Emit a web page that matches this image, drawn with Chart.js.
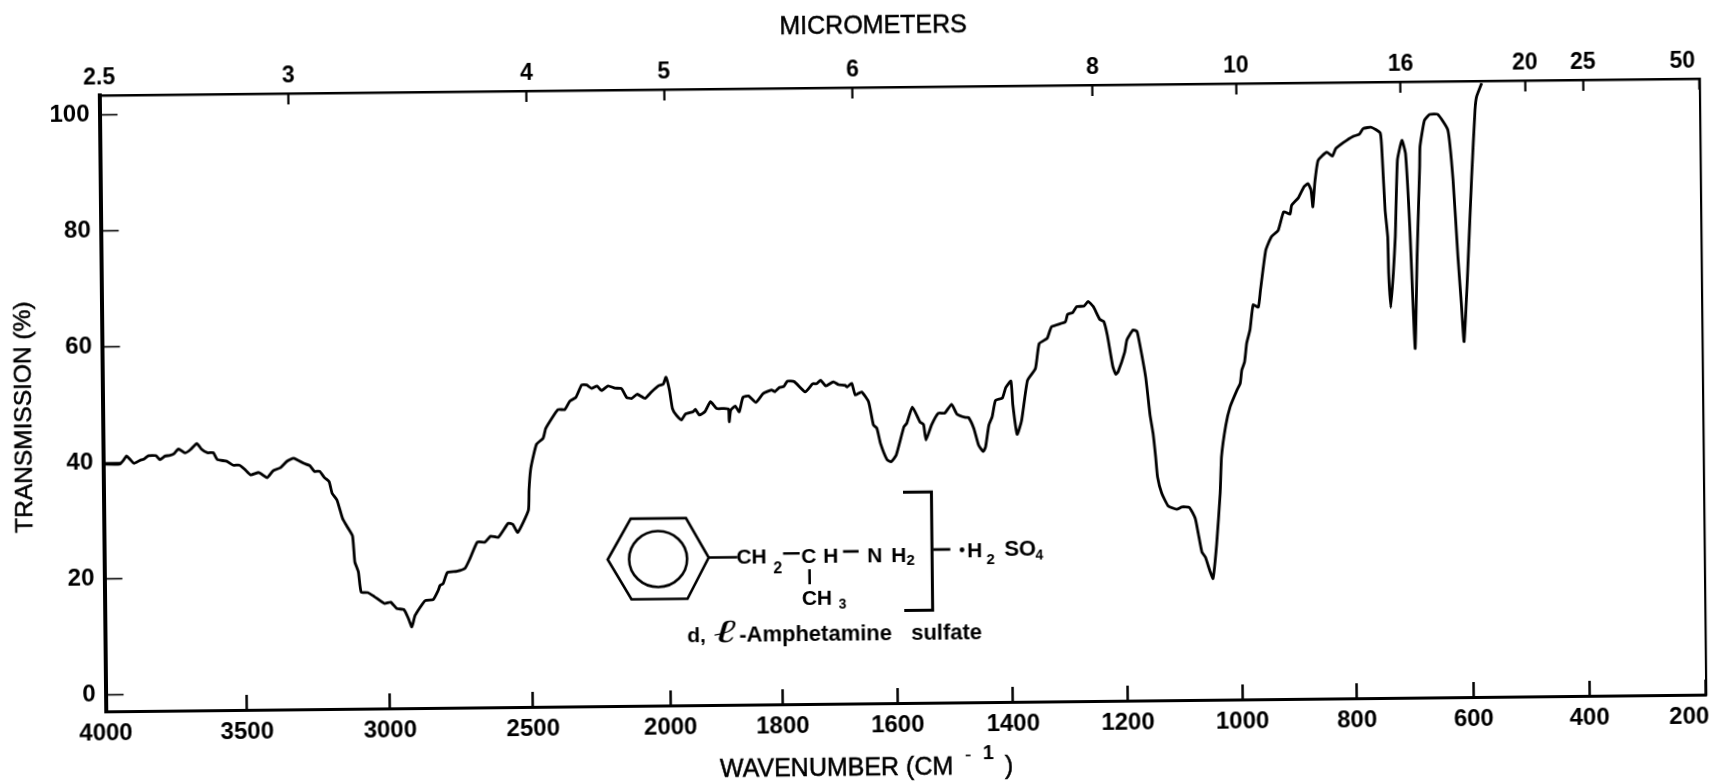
<!DOCTYPE html>
<html>
<head>
<meta charset="utf-8">
<title>d,l-Amphetamine sulfate IR spectrum</title>
<script src="https://cdn.jsdelivr.net/npm/chart.js@4/dist/chart.umd.min.js"></script>
<style>
  html, body { margin: 0; background: #fff; overflow: hidden; }
  /* the scanned page sits slightly crooked */
  #ir_chart { display: block; transform: rotate(-0.6deg); transform-origin: 902px 395px; }
</style>
</head>
<body>
<canvas id="ir_chart" width="1715" height="783"></canvas>
<script>
const wavenumbers = [
  4000,3941,3929,3917,3905,3891,3870,3856,3840,3813,3799,3781,3766,3749,3733,3710,3690,3668,3651,3631,
  3610,3596,3563,3540,3518,3500,3479,3450,3421,3400,3374,3351,3328,3293,3272,3256,3238,3221,3205,3195,
  3178,3159,3142,3125,3118,3106,3097,3074,3051,3016,2994,2973,2948,2933,2921,2909,2874,2845,2827,2821,
  2810,2795,2762,2733,2715,2689,2662,2642,2615,2580,2564,2547,2509,2506,2500,2490,2477,2453,2443,2398,
  2373,2355,2332,2311,2293,2275,2255,2239,2215,2190,2166,2148,2130,2109,2081,2057,2032,2014,2004,1996,
  1991,1984,1975,1968,1954,1950,1943,1933,1923,1912,1900,1891,1890,1887,1879,1872,1865,1855,1842,1829,
  1814,1808,1800,1792,1786,1774,1755,1742,1735,1728,1719,1706,1697,1686,1682,1674,1668,1657,1645,1637,
  1631,1625,1614,1607,1598,1584,1579,1569,1556,1550,1546,1536,1524,1513,1501,1492,1477,1472,1463,1455,
  1447,1443,1437,1431,1425,1413,1407,1398,1395,1388,1380,1369,1355,1348,1334,1326,1302,1298,1289,1282,
  1269,1262,1253,1242,1235,1229,1220,1215,1211,1199,1195,1184,1177,1163,1156,1151,1147,1144,1137,1126,
  1111,1102,1089,1079,1074,1068,1062,1054,1049,1042,1035,1032,1024,1016,1004,998,995,990,986,980,
  974,965,961,951,941,929,919,908,905,893,883,876,871,868,864,858,843,833,827,814,
  796,786,779,765,750,747,743,739,738,735,730,726,721,713,707,701,694,689,683,682,
  674,665,651,634,626,619,614,610,603,594,587,584,575
]
const transmission = [
  39.8,39.8,40.4,41.2,40.6,39.9,40.4,40.6,41.2,41.2,40.5,41.1,41.2,41.5,42.3,41.6,42.2,43.2,42.2,41.6,
  41.6,40.4,40.1,39.4,39.4,38.7,37.7,38.1,37.2,38.4,38.9,40.0,40.5,39.6,39.2,38.2,38.2,37.1,36.4,34.4,
  33.2,30.0,28.5,27.0,22.5,20.8,17.3,17.2,16.5,15.3,15.5,14.4,14.2,12.7,11.2,13.2,15.7,15.9,17.5,18.3,
  18.6,20.5,20.7,21.2,22.9,25.7,25.7,26.7,26.5,28.9,28.7,27.3,31.1,34.6,38.0,40.3,42.5,43.5,45.2,48.4,
  48.4,49.8,50.5,52.6,52.6,52.0,52.4,51.6,52.4,52.0,51.9,50.4,50.2,50.9,50.2,51.3,52.3,52.6,53.8,51.6,
  48.4,47.2,46.4,47.4,47.8,48.2,47.2,47.8,49.5,48.3,48.3,48.2,46.0,48.0,48.7,47.7,50.2,50.4,49.3,50.8,
  51.4,51.1,51.8,52.0,52.9,52.8,51.0,52.4,52.4,53.0,52.0,52.7,52.2,52.1,51.8,52.4,50.4,50.9,49.2,45.2,
  44.6,42.0,39.2,38.8,39.9,44.8,45.4,48.2,45.6,45.2,42.5,45.1,47.1,47.1,48.6,46.9,46.3,46.3,44.4,41.5,
  40.4,41.2,44.9,46.4,49.2,49.6,51.4,52.5,48.4,43.3,45.7,52.6,54.6,58.9,59.8,61.8,62.6,63.9,64.2,65.2,
  65.3,66.1,65.2,63.0,62.6,60.2,54.8,53.5,53.9,57.3,59.4,61.1,60.8,53.0,46.4,43.2,39.2,35.7,32.9,30.7,
  30.1,30.5,30.4,28.5,25.9,22.7,21.8,19.3,18.1,24.1,32.8,39.1,44.5,47.7,50.5,51.7,54.0,55.4,58.6,60.9,
  65.2,64.8,67.7,74.6,76.9,78.0,81.2,80.8,82.3,83.6,85.5,86.0,84.9,82.0,86.3,90.0,91.4,90.7,92.0,93.0,
  94.1,94.4,95.4,95.6,94.6,90.5,81.3,76.7,70.4,64.5,70.4,76.7,89.9,93.3,91.0,78.4,57.4,73.2,88.7,92.2,
  96.7,97.7,97.7,95.0,86.4,73.1,65.1,58.5,69.7,86.9,98.4,100.7,103.0
]
const bottom_ticks = [4000,3500,3000,2500,2000,1800,1600,1400,1200,1000,800,600,400,200]
// share of the axis width used up at each bottom tick, the printed grid changes scale at 2000
const bottom_stops = [0,.0883,.1777,.2670,.3529,.4230,.4948,.5670,.6387,.7103,.7819,.8548,.9272,1]
const top_positions = [4000,3333,2500,2000,1667,1250,1000,714,500,400,200]
const top_labels = ['2.5','3','4','5','6','8','10','16','20','25','50']
const percent_ticks = [0,20,40,60,80,100]

const FONT = '"Liberation Sans", Arial, sans-serif'

class WavenumberScale extends Chart.LinearScale {
    buildTicks() {
        return this.options.tickValues.map(v => ({ value: v }))
    }
    getPixelForValue(value) {
        for (let i = 1; i < bottom_ticks.length; i++) {
            if (value >= bottom_ticks[i]) {
                let t = (bottom_ticks[i - 1] - value) / (bottom_ticks[i - 1] - bottom_ticks[i])
                return this.getPixelForDecimal(bottom_stops[i - 1] + t * (bottom_stops[i] - bottom_stops[i - 1]))
            }
        }
        return this.getPixelForDecimal(1)
    }
    // the last label sits inside the frame instead of centred on the corner
    _computeLabelItems(area) {
        let items = super._computeLabelItems(area)
        if (items.length) items[items.length - 1].options.translation[0] -= 17
        return items
    }
}
WavenumberScale.id = 'wavenumber'
WavenumberScale.defaults = Chart.LinearScale.defaults
Chart.register(WavenumberScale)

function text(ctx, str, x, y, font, align) {
    ctx.font = font + ' ' + FONT
    ctx.textAlign = align || 'left'
    ctx.fillText(str, x, y)
}

// axis captions look heavier on the scan than a plain regular weight
function caption(ctx, str, x, y, font, align) {
    text(ctx, str, x, y, font, align)
    ctx.lineWidth = 0.5
    ctx.strokeText(str, x, y)
}

function fixBox(scale, w, h) {
    if (w) scale.width = w
    if (h) scale.height = h
    scale.paddingLeft = scale.paddingRight = scale.paddingTop = scale.paddingBottom = 0
}

const annotations = {
    id: 'annotations',
    afterDraw(chart) {
        let ctx = chart.ctx
        ctx.save()
        ctx.fillStyle = '#000'
        ctx.strokeStyle = '#000'
        ctx.textBaseline = 'alphabetic'

        // axis captions
        caption(ctx, 'MICROMETERS', 877, 33, '25px', 'center')
        caption(ctx, 'WAVENUMBER (CM', 716, 775, '25px')
        text(ctx, '-', 961, 762, '20px')
        text(ctx, '1', 979, 760, 'bold 20px')
        caption(ctx, ')', 1001, 775, '25px')
        ctx.save()
        ctx.translate(31, 408)
        ctx.rotate(-Math.PI / 2)
        caption(ctx, 'TRANSMISSION (%)', 0, 0, '24.5px', 'center')
        ctx.restore()

        // structural formula
        ctx.translate(-1.3, -1.8)
        ctx.lineWidth = 2.6
        ctx.lineJoin = 'miter'
        ctx.beginPath()
        ctx.moveTo(607.3, 558.3)
        ctx.lineTo(630.7, 517.7)
        ctx.lineTo(686, 517.7)
        ctx.lineTo(708.3, 557.3)
        ctx.lineTo(686.7, 598.3)
        ctx.lineTo(630.7, 598.3)
        ctx.closePath()
        ctx.moveTo(686.7, 558.3)
        ctx.ellipse(657.7, 558.3, 29, 28, 0, 0, Math.PI * 2)
        ctx.moveTo(708.3, 557.3)
        ctx.lineTo(737, 557.3)
        ctx.moveTo(782.7, 554)
        ctx.lineTo(799.3, 554)
        ctx.moveTo(842.7, 552.7)
        ctx.lineTo(858.3, 552.7)
        ctx.moveTo(809, 570)
        ctx.lineTo(809, 585)
        ctx.moveTo(933, 551.7)
        ctx.lineTo(950, 551.7)
        ctx.stroke()
        ctx.lineWidth = 3
        ctx.beginPath()
        ctx.moveTo(903.3, 494)
        ctx.lineTo(931.7, 494)
        ctx.lineTo(931.7, 612.3)
        ctx.lineTo(903.3, 612.3)
        ctx.stroke()
        ctx.beginPath()
        ctx.arc(961.7, 552.3, 2.4, 0, Math.PI * 2)
        ctx.fill()

        text(ctx, 'CH', 736, 563.3, 'bold 21px')
        text(ctx, '2', 772.7, 574, 'bold 16px')
        text(ctx, 'C', 800.7, 563.3, 'bold 21px')
        text(ctx, 'H', 822.7, 563.3, 'bold 21px')
        text(ctx, 'N', 866.7, 563.3, 'bold 21px')
        text(ctx, 'H', 890.7, 563.3, 'bold 21px')
        text(ctx, '2', 906, 567, 'bold 15px')
        text(ctx, 'CH', 801, 606, 'bold 21px')
        text(ctx, '3', 837.7, 609.3, 'bold 14px')
        text(ctx, 'H', 966.7, 560, 'bold 21px')
        text(ctx, '2', 986, 567, 'bold 15px')
        text(ctx, 'SO', 1004, 559, 'bold 22px')
        text(ctx, '4', 1035, 563, 'bold 14px')
        text(ctx, 'd,', 686, 642, 'bold 21px')
        ctx.save()
        ctx.translate(712, 642)
        ctx.scale(1.7, 1)
        ctx.font = 'italic 32px "DejaVu Serif"'
        ctx.fillText('\u2113', 0, 0)
        ctx.restore()
        text(ctx, '-Amphetamine', 738, 642, 'bold 22px')
        text(ctx, 'sulfate', 910, 642, 'bold 22px')
        ctx.restore()
    }
}

let ctx = document.querySelector('#ir_chart').getContext('2d')

let ir_chart = new Chart(ctx, {
    type: 'line',
    data: {
        datasets: [{
            data: wavenumbers.map((w, i) => ({ x: w, y: transmission[i] })),
            xAxisID: 'x',
            yAxisID: 'y',
            borderColor: '#000',
            borderWidth: 2.8,
            borderJoinStyle: 'round',
            pointRadius: 0,
            tension: 0.15,
            fill: false
        }]
    },
    options: {
        responsive: false,
        animation: false,
        events: [],
        layout: { padding: 0 },
        plugins: { legend: { display: false }, tooltip: { enabled: false } },
        scales: {
            x: {
                type: 'wavenumber',
                position: 'bottom',
                min: 200,
                max: 4000,
                tickValues: bottom_ticks,
                border: { color: '#000', width: 3 },
                grid: { drawOnChartArea: false, color: '#000', tickLength: -15, tickWidth: 2.5 },
                ticks: {
                    autoSkip: false, maxRotation: 0, color: '#000', padding: 23,
                    font: { family: FONT, size: 24, weight: 'bold' },
                    callback: (v) => String(v)
                },
                afterFit: (s) => fixBox(s, 0, 80)
            },
            x2: {
                type: 'wavenumber',
                position: 'top',
                min: 200,
                max: 4000,
                tickValues: top_positions,
                border: { color: '#000', width: 2.5 },
                grid: { drawOnChartArea: false, color: '#000', tickLength: -11, tickWidth: 2.2 },
                ticks: {
                    autoSkip: false, maxRotation: 0, color: '#000', padding: 15,
                    font: { family: FONT, size: 23, weight: 'bold' },
                    callback: (v, i) => top_labels[i]
                },
                afterFit: (s) => fixBox(s, 0, 87)
            },
            y: {
                type: 'linear',
                position: 'left',
                min: -2.8,
                max: 103.4,
                border: { color: '#000', width: 4 },
                grid: { drawOnChartArea: false, color: '#000', tickLength: -18, tickWidth: 1.6 },
                ticks: {
                    color: '#000', padding: 28,
                    font: { family: FONT, size: 24, weight: 'bold' }
                },
                afterBuildTicks: (s) => { s.ticks = percent_ticks.map(v => ({ value: v })) },
                afterFit: (s) => fixBox(s, 102.5, 0)
            },
            y2: {
                type: 'linear',
                position: 'right',
                min: -2.8,
                max: 103.4,
                border: { color: '#000', width: 2.2 },
                grid: { drawOnChartArea: false, drawTicks: false },
                ticks: { display: false },
                afterFit: (s) => fixBox(s, 12.2, 0)
            }
        }
    },
    plugins: [annotations]
})
</script>
</body>
</html>
